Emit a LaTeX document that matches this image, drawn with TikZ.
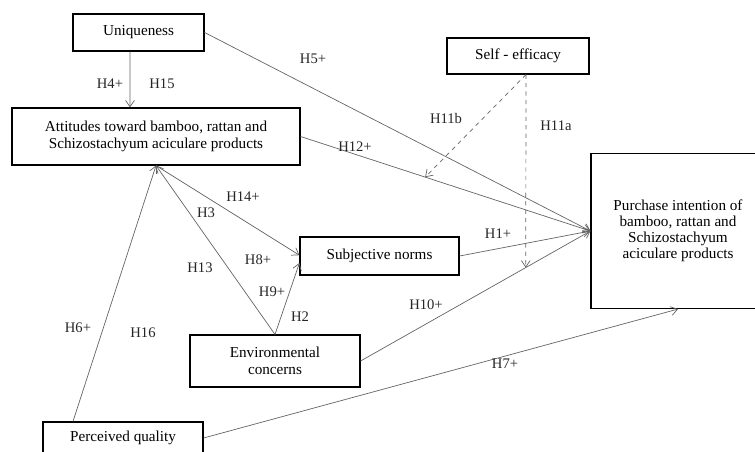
\documentclass[tikz,border=0pt]{standalone}
\usepackage{fontspec}
\setmainfont{Liberation Serif}
\usepackage{tikz}
\usetikzlibrary{arrows.meta,positioning,calc}
\definecolor{linegray}{RGB}{100,100,100}
\tikzstyle{box}=[draw=black, line width=0.8pt, align=center, font=\fontsize{10.8}{12}\selectfont, inner sep=2pt]
\tikzstyle{link}=[draw=linegray, line width=0.5pt, -{Straight Barb[length=1.6mm,width=2.2mm]}]
\tikzstyle{hyp}=[font=\fontsize{10.4}{12}\selectfont, inner sep=0pt, text=black!85]

\begin{document}
\begin{tikzpicture}[x=0.025cm, y=-0.025cm]
				\path[use as bounding box, clip](0,0) rectangle (755,452);
				% constructs
				\node[box, minimum width=3.275cm, minimum height=0.925cm](U)at(138.5,32.5){Uniqueness};
				\node[box, minimum width=7.2cm, minimum height=1.425cm](A)at(156,136.5){Attitudes toward bamboo, rattan and\\Schizostachyum aciculare products};
				\node[box, minimum width=3.55cm, minimum height=0.9cm](S)at(518,56){Self - efficacy};
				\node[box, minimum width=4.35cm, minimum height=3.875cm, font=\fontsize{10.8}{11.3}\selectfont](P)at(678,231){Purchase intention of\\bamboo, rattan and\\Schizostachyum\\aciculare products};
				\node[box, minimum width=3.975cm, minimum height=0.95cm](N)at(379.5,256){Subjective norms};
				\node[box, minimum width=4.25cm, minimum height=1.3cm](E)at(275,361){Environmental\\concerns};
				\node[box, minimum width=4cm, minimum height=0.8cm](Q)at(123,438){Perceived quality};
				% paths
				\draw[link]([xshift=-0.2125cm]U.south)--([xshift=-0.65cm]A.north);
				\draw[link](U.east)--(P.west);
				\draw[link](A.east)--(P.west);
				\draw[link](N.east)--(P.west);
				\draw[link](E.east)--(P.west);
				\draw[link](Q.east)--(P.south);
				\draw[link]([xshift=-1.25cm]Q.north)--(A.south);
				\draw[link](E.north)--(A.south);
				\draw[link](A.south)--([yshift=0.02cm]N.west);
				\draw[link](E.north)--([yshift=-0.175cm]N.west);
				% moderation
				\path(A.east)--(P.west)coordinate[pos=0.43](m1);
				\path(E.east)--(P.west)coordinate[pos=0.7186](m2);
				\coordinate(s0)at([xshift=0.2cm]S.south);
				\draw[link, dashed](s0)--(m1);
				\draw[link, dashed](s0)--(m2);
				% labels
				\node[hyp](h4)at(110,84){H4+};
				\node[hyp](h15)at(162,84){H15};
				\node[hyp](h5)at(313,59){H5+};
				\node[hyp](h12)at(355,147){H12+};
				\node[hyp](h11b)at(446,119){H11b};
				\node[hyp](h11a)at(556,126){H11a};
				\node[hyp](h14)at(243,197){H14+};
				\node[hyp](h3)at(206,213){H3};
				\node[hyp](h13)at(200,268){H13};
				\node[hyp](h8)at(258,260){H8+};
				\node[hyp](h9)at(272,292){H9+};
				\node[hyp](h2)at(300,317){H2};
				\node[hyp](h1)at(498,234){H1+};
				\node[hyp](h10)at(426,305){H10+};
				\node[hyp](h6)at(78,328){H6+};
				\node[hyp](h16)at(143,333){H16};
				\node[hyp](h7)at(505,364){H7+};
			\end{tikzpicture}
\end{document}
